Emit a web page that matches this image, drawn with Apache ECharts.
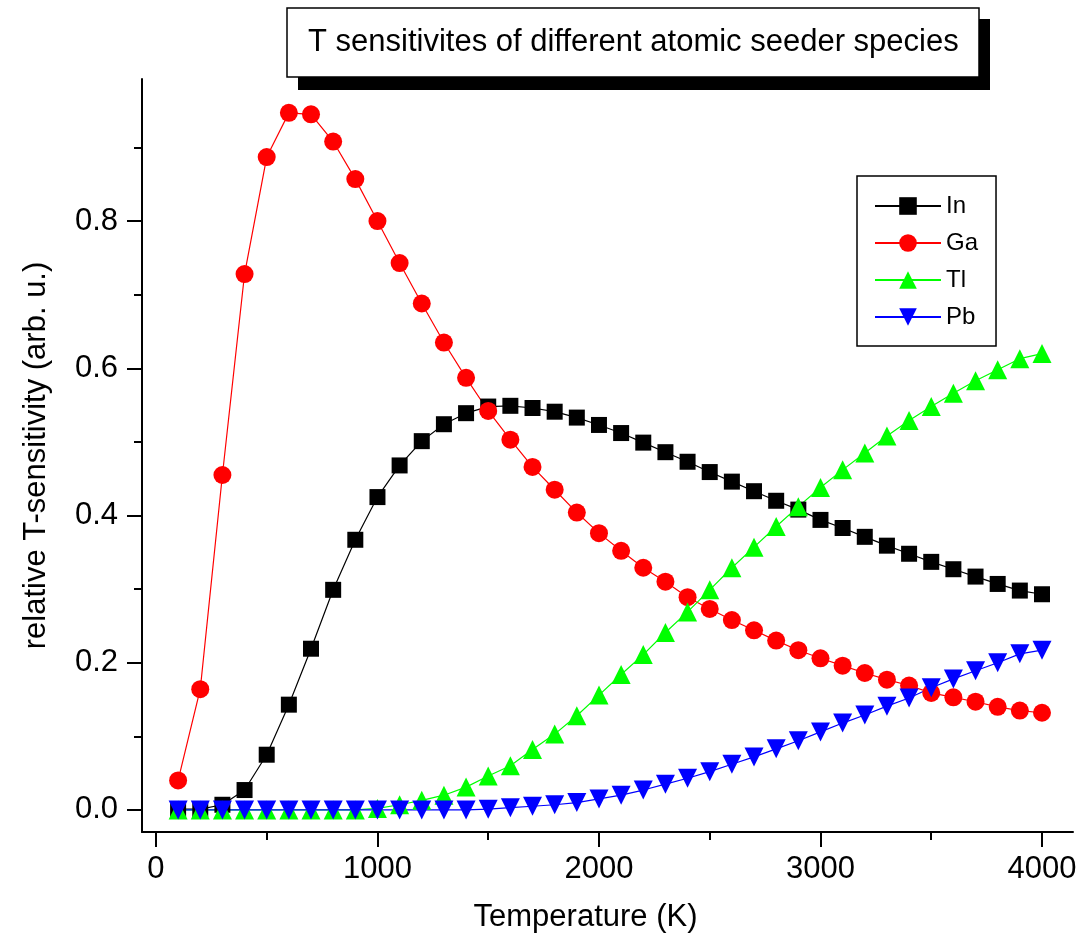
<!DOCTYPE html>
<html>
<head>
<meta charset="utf-8">
<script src="https://cdn.jsdelivr.net/npm/echarts@6/dist/echarts.min.js"></script>
<style>
  html, body { margin: 0; padding: 0; background: #fff; }
  #chart { width: 1083px; height: 939px; }
</style>
</head>
<body>
<div id="chart"></div>
<script>
// temperatures (K)
const temps = [100, 200, 300, 400, 500, 600, 700, 800, 900, 1000,
  1100, 1200, 1300, 1400, 1500, 1600, 1700, 1800, 1900, 2000,
  2100, 2200, 2300, 2400, 2500, 2600, 2700, 2800, 2900, 3000,
  3100, 3200, 3300, 3400, 3500, 3600, 3700, 3800, 3900, 4000];

// relative T-sensitivity per seeder species
const inVals = [0.001, 0.001, 0.007, 0.027, 0.075, 0.143, 0.219, 0.299, 0.367, 0.425,
  0.468, 0.501, 0.524, 0.539, 0.548, 0.549, 0.546, 0.541, 0.533, 0.523,
  0.512, 0.499, 0.486, 0.473, 0.459, 0.446, 0.433, 0.420, 0.408, 0.394,
  0.383, 0.371, 0.359, 0.348, 0.337, 0.327, 0.317, 0.307, 0.298, 0.293];
const gaVals = [0.040, 0.164, 0.455, 0.728, 0.887, 0.947, 0.945, 0.908, 0.857, 0.800,
  0.743, 0.688, 0.635, 0.587, 0.542, 0.503, 0.466, 0.435, 0.404, 0.376,
  0.352, 0.329, 0.310, 0.289, 0.273, 0.258, 0.244, 0.230, 0.217, 0.206,
  0.196, 0.186, 0.177, 0.169, 0.159, 0.153, 0.147, 0.140, 0.135, 0.132];
const tlVals = [0, 0, 0, 0, 0, 0, 0, 0, 0, 0.002,
  0.007, 0.013, 0.020, 0.031, 0.046, 0.060, 0.082, 0.103, 0.128, 0.156,
  0.184, 0.211, 0.241, 0.269, 0.299, 0.329, 0.357, 0.385, 0.412, 0.438,
  0.462, 0.485, 0.508, 0.529, 0.548, 0.566, 0.583, 0.598, 0.613, 0.620];
const pbVals = [0, 0, 0, 0, 0, 0, 0, 0, 0, 0,
  0, 0, 0, 0, 0.001, 0.003, 0.005, 0.007, 0.010, 0.015,
  0.020, 0.027, 0.035, 0.043, 0.052, 0.062, 0.072, 0.083, 0.094, 0.106,
  0.118, 0.129, 0.141, 0.152, 0.166, 0.178, 0.189, 0.200, 0.212, 0.217];

// axis ticks
const xMajor = [0, 1000, 2000, 3000, 4000];
const xMinor = [500, 1500, 2500, 3500];
const yMajor = [0, 0.2, 0.4, 0.6, 0.8];
const yMinor = [0.1, 0.3, 0.5, 0.7, 0.9];

const FONT = "'Liberation Sans', Arial, sans-serif";
const pairs = (vals) => temps.map((t, i) => [t, vals[i]]);

const chart = echarts.init(document.getElementById("chart"));

const mkSeries = (name, vals, color, symbol, size, rotate) => ({
  name: name,
  type: "line",
  xAxisIndex: 0,
  yAxisIndex: 0,
  data: pairs(vals),
  symbol: symbol,
  symbolSize: size,
  symbolRotate: rotate || 0,
  showAllSymbol: true,
  lineStyle: { color: color, width: 1.2 },
  itemStyle: { color: color },
  emphasis: { disabled: true },
});

const axisLine = { show: true, onZero: false, lineStyle: { color: "#000", width: 2 } };
const noLine = { show: false, onZero: false };
const tick = (vals, len) => ({
  show: true,
  customValues: vals,
  length: len,
  lineStyle: { color: "#000", width: 2 },
});
const gridBox = { left: 142, right: 10, top: 79, bottom: 107 };

chart.setOption({
  animation: false,
  textStyle: { fontFamily: FONT, color: "#000" },
  title: {
    text: "T sensitivites of different atomic seeder species",
    left: 287,
    top: 8,
    padding: [19, 21, 19, 21],
    backgroundColor: "#fff",
    borderColor: "#000",
    borderWidth: 1.5,
    textStyle: { fontFamily: FONT, fontSize: 31, fontWeight: "normal", color: "#000" },
  },
  graphic: [
    {
      type: "rect",
      z: 0,
      shape: { x: 298, y: 19, width: 692, height: 71 },
      style: { fill: "#000" },
    },
  ],
  legend: {
    orient: "vertical",
    left: 857,
    top: 176,
    padding: [18, 18, 17, 17],
    itemWidth: 66,
    itemHeight: 22,
    itemGap: 13,
    borderColor: "#000",
    borderWidth: 1.5,
    backgroundColor: "#fff",
    textStyle: { fontFamily: FONT, fontSize: 24, color: "#000" },
    data: ["In", "Ga", "Tl", "Pb"],
  },
  // second grid with the same box only carries the minor ticks
  grid: [gridBox, gridBox],
  xAxis: [
    {
      type: "value",
      gridIndex: 0,
      min: -63,
      max: 4140,
      name: "Temperature (K)",
      nameLocation: "middle",
      nameGap: 70,
      nameTextStyle: { fontFamily: FONT, fontSize: 31, color: "#000", padding: [0, 44, 0, 0] },
      axisLine: axisLine,
      axisTick: tick(xMajor, 15),
      axisLabel: {
        customValues: xMajor,
        fontFamily: FONT,
        fontSize: 31,
        color: "#000",
        margin: 22,
        formatter: (v) => String(v),
      },
      splitLine: { show: false },
    },
    {
      type: "value",
      gridIndex: 1,
      min: -63,
      max: 4140,
      position: "bottom",
      axisLine: noLine,
      axisTick: tick(xMinor, 8),
      axisLabel: { show: false },
      splitLine: { show: false },
    },
  ],
  yAxis: [
    {
      type: "value",
      gridIndex: 0,
      min: -0.03,
      max: 0.993,
      name: "relative T-sensitivity (arb. u.)",
      nameLocation: "middle",
      nameGap: 90,
      nameTextStyle: { fontFamily: FONT, fontSize: 31, color: "#000" },
      axisLine: axisLine,
      axisTick: tick(yMajor, 15),
      axisLabel: {
        customValues: yMajor,
        fontFamily: FONT,
        fontSize: 31,
        color: "#000",
        margin: 24,
        formatter: (v) => v.toFixed(1),
      },
      splitLine: { show: false },
    },
    {
      type: "value",
      gridIndex: 1,
      min: -0.03,
      max: 0.993,
      position: "left",
      axisLine: noLine,
      axisTick: tick(yMinor, 8),
      axisLabel: { show: false },
      splitLine: { show: false },
    },
  ],
  series: [
    mkSeries("In", inVals, "#000000", "rect", 16),
    mkSeries("Ga", gaVals, "#ff0000", "circle", 18),
    mkSeries("Tl", tlVals, "#00ff00", "triangle", 19),
    mkSeries("Pb", pbVals, "#0000ff", "triangle", 19, 180),
  ],
});
</script>
</body>
</html>
